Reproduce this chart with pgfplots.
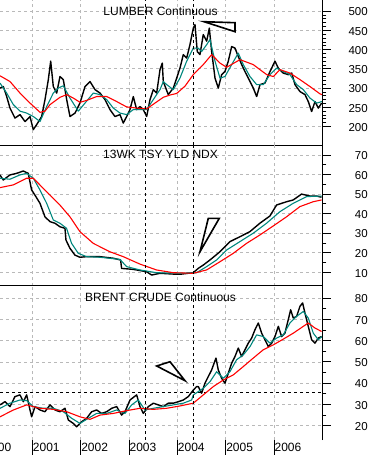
\documentclass[border=0pt]{standalone}
\usepackage{pgfplots}
\pgfplotsset{compat=1.18}
\usepackage{fontspec}
\setmainfont{Liberation Sans}
\definecolor{ma1}{RGB}{0,135,125}
\definecolor{ma2}{RGB}{255,0,0}
\definecolor{gridc}{RGB}{185,185,185}
\tikzset{
  vmark/.style={black, line width=0.9pt, dash pattern=on 3pt off 3pt},
  tri/.style={black, line width=1.6pt, line join=miter},
}
\pgfplotsset{
  panel/.style={scale only axis, width=322pt, clip=false,
    axis line style={draw=none},
    xmin=2000.332, xmax=2006.995,
    xtick={2001,2002,2003,2004,2005,2006}, xtick style={draw=none}, xticklabels={},
    grid=major, major grid style={gridc, dash pattern=on 3pt off 3pt, line width=0.7pt},
    ytick pos=right, yticklabel pos=right, ytick align=outside,
    major tick length=9pt, minor tick length=4.5pt,
    tick style={black, line width=0.8pt},
    yticklabel style={font=\fontsize{11.5}{13}\selectfont, anchor=east, inner sep=0pt, xshift=37pt, yshift=-0.8pt},
    /pgf/number format/assume math mode=true,
  },
  price/.style={black, line width=1.4pt, line join=round},
  mashort/.style={ma1, line width=1.1pt, line join=round},
  malong/.style={ma2, line width=1.1pt, line join=round},
}
\begin{document}
\begin{tikzpicture}[font=\fontsize{12}{14}\selectfont]
\path[use as bounding box] (0,0) rectangle (371pt,-455pt);
% ---------------- Panel 1: Lumber
\begin{axis}[panel, at={(0pt,0pt)}, anchor=north west, height=145pt,
  ymin=152, ymax=529, ytick={200,250,...,500}, minor y tick num=4]
\addplot[price] coordinates {(2000.332,300)(2000.401,304)(2000.470,278)(2000.539,248)(2000.642,222)(2000.746,231)(2000.849,213)(2000.953,226)(2001.021,192)(2001.091,205)(2001.194,226)(2001.263,270)(2001.332,322)(2001.381,370)(2001.435,304)(2001.505,287)(2001.573,330)(2001.642,322)(2001.712,270)(2001.780,226)(2001.884,235)(2001.987,261)(2002.091,304)(2002.194,317)(2002.298,296)(2002.401,287)(2002.505,270)(2002.608,244)(2002.711,226)(2002.815,231)(2002.883,209)(2002.953,226)(2003.022,244)(2003.090,278)(2003.160,244)(2003.229,252)(2003.297,244)(2003.367,226)(2003.436,270)(2003.504,296)(2003.574,287)(2003.643,348)(2003.690,365)(2003.711,317)(2003.814,283)(2003.918,300)(2003.988,326)(2004.056,352)(2004.125,387)(2004.195,378)(2004.263,413)(2004.332,456)(2004.367,465)(2004.414,395)(2004.470,387)(2004.538,439)(2004.609,422)(2004.663,456)(2004.712,395)(2004.781,326)(2004.849,300)(2004.919,335)(2004.987,343)(2005.056,370)(2005.126,408)(2005.194,404)(2005.263,382)(2005.333,361)(2005.401,343)(2005.470,326)(2005.573,300)(2005.643,278)(2005.712,309)(2005.815,313)(2005.919,343)(2006.022,370)(2006.090,352)(2006.194,339)(2006.297,335)(2006.368,339)(2006.436,309)(2006.539,291)(2006.643,283)(2006.711,265)(2006.781,239)(2006.850,265)(2006.918,248)(2006.988,261)};
\addplot[mashort] coordinates {(2000.332,313)(2000.470,287)(2000.608,257)(2000.746,240)(2000.884,235)(2001.021,226)(2001.160,213)(2001.298,252)(2001.435,287)(2001.538,300)(2001.642,306)(2001.780,274)(2001.952,240)(2002.091,261)(2002.263,287)(2002.401,283)(2002.540,270)(2002.676,248)(2002.815,235)(2002.953,231)(2003.090,244)(2003.229,244)(2003.367,244)(2003.504,270)(2003.643,296)(2003.711,317)(2003.781,309)(2003.918,296)(2004.056,326)(2004.195,370)(2004.332,404)(2004.435,404)(2004.505,395)(2004.609,413)(2004.677,426)(2004.781,370)(2004.884,326)(2004.987,330)(2005.126,361)(2005.263,391)(2005.366,361)(2005.505,330)(2005.643,309)(2005.780,309)(2005.919,335)(2006.057,352)(2006.194,343)(2006.332,335)(2006.471,309)(2006.608,296)(2006.746,274)(2006.885,261)(2006.994,265)};
\addplot[malong] coordinates {(2000.332,332)(2000.539,317)(2000.746,287)(2000.953,261)(2001.160,237)(2001.263,240)(2001.367,257)(2001.573,276)(2001.712,283)(2001.849,274)(2001.987,263)(2002.126,268)(2002.333,278)(2002.540,278)(2002.746,265)(2002.953,251)(2003.160,248)(2003.367,246)(2003.539,261)(2003.711,276)(2003.850,282)(2003.988,286)(2004.160,305)(2004.332,335)(2004.538,361)(2004.712,387)(2004.884,365)(2005.022,354)(2005.298,374)(2005.573,361)(2005.850,335)(2005.988,330)(2006.125,348)(2006.332,339)(2006.539,322)(2006.746,304)(2006.953,285)(2006.994,283)};
\draw[vmark] (axis cs:2003.346,152) -- (axis cs:2003.346,529);
\draw[vmark] (axis cs:2004.331,152) -- (axis cs:2004.331,529);
\draw[black, line width=0.9pt] (rel axis cs:0,0) -- (rel axis cs:1,0);
\draw[black, line width=0.9pt] (rel axis cs:1,0) -- (rel axis cs:1,1);
\node[anchor=north, inner sep=0pt] at (rel axis cs:0.4985,1) [yshift=-7pt] {LUMBER Continuous};
\end{axis}
% ---------------- Panel 2: 13wk yield
\begin{axis}[panel, at={(0pt,-145pt)}, anchor=north west, height=140.7pt,
  ymin=3.15, ymax=75.1, ytick={10,20,...,70}, minor y tick num=1]
\addplot[price] coordinates {(2000.331,59.8)(2000.400,57.2)(2000.538,59.8)(2000.676,60.6)(2000.814,61.8)(2000.917,60.6)(2000.986,52.1)(2001.055,49.5)(2001.159,45.3)(2001.262,38.4)(2001.366,35.9)(2001.469,35.1)(2001.572,33.3)(2001.676,32.5)(2001.697,26.5)(2001.779,22.3)(2001.883,18.8)(2001.986,17.7)(2002.124,18)(2002.400,18)(2002.676,17.2)(2002.828,16.3)(2002.848,12)(2003.090,11.5)(2003.366,10.3)(2003.469,8.6)(2003.641,9.5)(2003.917,9.1)(2004.055,9)(2004.331,9.8)(2004.434,12)(2004.538,13.7)(2004.676,16.3)(2004.883,20.5)(2005.090,25.7)(2005.297,28.2)(2005.503,30.8)(2005.710,35.1)(2005.917,38.8)(2006.055,44.4)(2006.262,46.1)(2006.400,47)(2006.572,50)(2006.745,49)(2006.883,49)(2006.986,48.4)};
\addplot[mashort] coordinates {(2000.331,58.1)(2000.538,57.6)(2000.745,59.8)(2000.883,60.6)(2001.021,58.1)(2001.159,52.1)(2001.297,45.3)(2001.434,36.8)(2001.572,35.1)(2001.710,32.5)(2001.814,24.8)(2001.952,19.7)(2002.124,18)(2002.400,17.7)(2002.814,16.6)(2002.952,12.9)(2003.228,11.2)(2003.572,9.8)(2004.055,9.5)(2004.400,9.8)(2004.607,12.9)(2004.814,16.3)(2005.021,21.4)(2005.297,25.7)(2005.572,30)(2005.848,35.1)(2006.124,41)(2006.400,45.3)(2006.676,48.7)(2006.986,49)};
\addplot[malong] coordinates {(2000.331,53.3)(2000.607,54.7)(2000.883,58.1)(2001.021,58.1)(2001.297,51.2)(2001.572,44.4)(2001.779,38.4)(2001.986,30.8)(2002.262,24.8)(2002.607,20.5)(2002.883,18)(2003.228,14.2)(2003.572,11.2)(2003.917,9.8)(2004.331,9.5)(2004.607,11.2)(2004.883,15.4)(2005.159,19.7)(2005.434,24.8)(2005.710,29.1)(2005.986,33.7)(2006.262,38.4)(2006.538,43.6)(2006.814,46.1)(2006.986,47)};
\draw[vmark] (axis cs:2003.346,3.15) -- (axis cs:2003.346,75.1);
\draw[vmark] (axis cs:2004.331,3.15) -- (axis cs:2004.331,75.1);
\draw[black, line width=0.9pt] (rel axis cs:0,0) -- (rel axis cs:1,0);
\draw[black, line width=0.9pt] (rel axis cs:1,0) -- (rel axis cs:1,1);
\node[anchor=north, inner sep=0pt] at (rel axis cs:0.4985,1) [yshift=-5pt] {13WK TSY YLD NDX};
\end{axis}
% ---------------- Panel 3: Brent
\begin{axis}[panel, at={(0pt,-285.7pt)}, anchor=north west, height=154.3pt,
  ymin=13.3, ymax=85.8, ytick={20,30,...,80}, minor y tick num=1,
  xticklabels={2001,2002,2003,2004,2005,2006},
  xticklabel style={font=\fontsize{12}{14}\selectfont, anchor=north west, inner sep=0pt, xshift=0.5pt, yshift=-2.7pt}]
\draw[black, line width=0.9pt, dash pattern=on 3pt off 3pt] (axis cs:2000.332,35.7) -- (axis cs:2006.995,35.7);
\addplot[price] coordinates {(2000.332,29.8)(2000.435,31.3)(2000.539,29)(2000.642,33.7)(2000.746,34.5)(2000.815,31.3)(2000.884,34.5)(2000.953,27.4)(2000.987,24.2)(2001.056,29)(2001.160,27.4)(2001.263,26.6)(2001.367,29.8)(2001.470,27.4)(2001.573,26.6)(2001.677,28.2)(2001.746,22.7)(2001.849,21.1)(2001.918,19.5)(2002.022,21.9)(2002.125,23.5)(2002.229,26.6)(2002.332,27.4)(2002.436,25.8)(2002.539,26.6)(2002.643,28.2)(2002.746,29)(2002.849,25)(2002.918,26.6)(2003.022,32.1)(2003.160,34.5)(2003.229,29)(2003.298,25.8)(2003.401,29)(2003.505,30.6)(2003.608,29.8)(2003.711,29)(2003.815,30.6)(2003.918,30.6)(2004.022,31.3)(2004.125,32.1)(2004.229,33.7)(2004.332,36.8)(2004.401,38.4)(2004.435,38.4)(2004.504,35.3)(2004.573,40)(2004.642,43.1)(2004.711,46.2)(2004.801,51.8)(2004.849,46.2)(2004.918,42.3)(2004.987,40)(2005.056,44.7)(2005.125,49.4)(2005.194,52.5)(2005.263,56.5)(2005.332,52.5)(2005.401,55.7)(2005.470,58.8)(2005.539,61.2)(2005.608,65.1)(2005.677,68.3)(2005.746,63.5)(2005.815,60.4)(2005.884,57.2)(2005.953,58.8)(2006.022,61.9)(2006.091,66.7)(2006.160,61.9)(2006.228,63.5)(2006.297,69.8)(2006.346,74.5)(2006.401,70.6)(2006.470,71.4)(2006.539,76.1)(2006.594,77.7)(2006.642,73)(2006.711,66.7)(2006.780,60.4)(2006.849,58.8)(2006.918,61.2)(2006.987,61.9)};
\addplot[mashort] coordinates {(2000.332,28.2)(2000.539,30.6)(2000.746,32.1)(2000.884,31.8)(2001.022,29)(2001.229,28.2)(2001.435,28.2)(2001.642,26.6)(2001.815,23.5)(2001.987,21.1)(2002.160,23.5)(2002.332,25.8)(2002.539,25.8)(2002.746,27.4)(2002.918,25.8)(2003.056,29.8)(2003.194,32.1)(2003.332,27.4)(2003.505,28.2)(2003.711,29)(2003.918,29.8)(2004.125,30.6)(2004.298,32.1)(2004.332,34.5)(2004.539,37.6)(2004.677,40.7)(2004.815,45.4)(2004.953,42.3)(2005.090,45.4)(2005.228,51)(2005.366,53.3)(2005.505,57.2)(2005.642,62.7)(2005.780,61.9)(2005.918,58.8)(2006.056,61.2)(2006.194,62.7)(2006.332,68.3)(2006.470,71.4)(2006.608,73.7)(2006.711,70.6)(2006.815,63.5)(2006.918,60.4)(2006.990,61.9)};
\addplot[malong] coordinates {(2000.332,24.2)(2000.608,27.4)(2000.884,29.8)(2001.160,28.2)(2001.435,27.7)(2001.711,26.6)(2001.987,24.2)(2002.194,23)(2002.401,25)(2002.677,25.8)(2002.953,27.1)(2003.229,28.2)(2003.505,27.7)(2003.780,28.2)(2004.056,29.3)(2004.332,30.6)(2004.539,34.5)(2004.746,38.4)(2004.953,41.5)(2005.159,43.9)(2005.366,47.8)(2005.573,51.8)(2005.780,55.7)(2005.987,58)(2006.194,60.7)(2006.401,63.5)(2006.608,66.7)(2006.711,68.3)(2006.849,65.9)(2006.987,64.3)};
\draw[vmark] (axis cs:2003.346,13.3) -- (axis cs:2003.346,85.8);
\draw[vmark] (axis cs:2004.331,13.3) -- (axis cs:2004.331,85.8);
\draw[black, line width=0.9pt] (rel axis cs:1,0) -- (rel axis cs:1,1);
\draw[black, line width=0.8pt] (axis cs:2001,13.3) -- ([yshift=-15pt]axis cs:2001,13.3);
\draw[black, line width=0.8pt] (axis cs:2002,13.3) -- ([yshift=-15pt]axis cs:2002,13.3);
\draw[black, line width=0.8pt] (axis cs:2003,13.3) -- ([yshift=-15pt]axis cs:2003,13.3);
\draw[black, line width=0.8pt] (axis cs:2004,13.3) -- ([yshift=-15pt]axis cs:2004,13.3);
\draw[black, line width=0.8pt] (axis cs:2005,13.3) -- ([yshift=-15pt]axis cs:2005,13.3);
\draw[black, line width=0.8pt] (axis cs:2006,13.3) -- ([yshift=-15pt]axis cs:2006,13.3);
\node[anchor=north west, inner sep=0pt] at (axis cs:2000,13.3) [xshift=0.5pt, yshift=-2.7pt] {2000};
\node[anchor=north, inner sep=0pt] at (rel axis cs:0.4985,1) [yshift=-6.6pt] {BRENT CRUDE Continuous};
\end{axis}
% annotation triangles
\draw[tri] (204pt,-21.7pt) -- (235pt,-22.7pt) -- (235pt,-31.7pt) -- cycle;
\draw[tri] (200pt,-251.7pt) -- (208.3pt,-218.3pt) -- (219.3pt,-218.3pt) -- cycle;
\draw[tri] (156.7pt,-366pt) -- (170pt,-361.7pt) -- (185pt,-380.7pt) -- cycle;
\end{tikzpicture}
\end{document}
